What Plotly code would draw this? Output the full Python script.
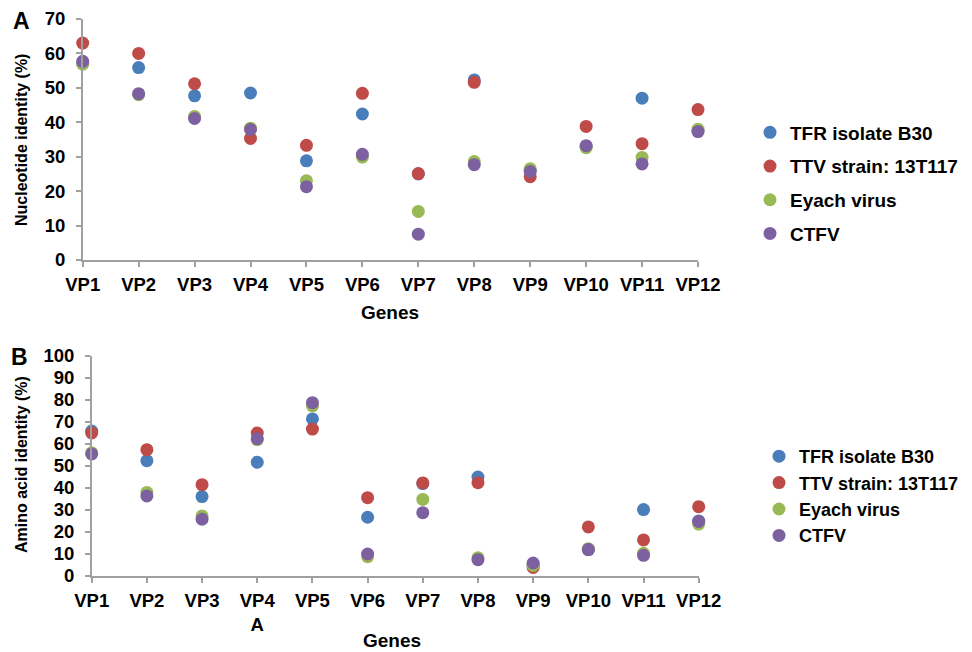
import plotly.graph_objects as go

genes = ["VP1", "VP2", "VP3", "VP4", "VP5", "VP6", "VP7", "VP8", "VP9", "VP10", "VP11", "VP12"]
tick_labels_a = ["VP1", "VP2", "VP3", "VP4", "VP5", "VP6", "VP7", "VP8", "VP9", "VP10", "VP11", "VP12"]
tick_labels_b = ["VP1", "VP2", "VP3", "VP4<br>A", "VP5", "VP6", "VP7", "VP8", "VP9", "VP10", "VP11", "VP12"]

series_names = ["TFR isolate B30", "TTV strain: 13T117", "Eyach virus", "CTFV"]
series_colors = ["#4A7EBB", "#BE4B48", "#98B954", "#7D60A0"]

# Panel A: nucleotide identity (%)
nt_tfr = [57.0, 55.9, 47.7, 48.5, 28.8, 42.4, 25.0, 52.3, 26.0, 33.0, 47.0, 37.5]
nt_ttv = [63.0, 60.0, 51.2, 35.3, 33.3, 48.4, 25.1, 51.6, 24.2, 38.8, 33.8, 43.7]
nt_eyach = [56.9, 48.0, 41.7, 38.3, 23.0, 29.9, 14.1, 28.6, 26.5, 32.6, 29.8, 38.0]
nt_ctfv = [57.7, 48.3, 41.1, 37.9, 21.3, 30.7, 7.5, 27.7, 25.7, 33.2, 27.9, 37.3]

# Panel B: amino acid identity (%)
aa_tfr = [65.9, 52.4, 36.1, 51.7, 71.4, 26.7, 42.0, 45.0, 5.0, 12.0, 30.2, 25.0]
aa_ttv = [65.0, 57.4, 41.5, 65.0, 66.8, 35.6, 42.3, 42.4, 3.9, 22.3, 16.4, 31.5]
aa_eyach = [56.0, 38.0, 27.3, 62.0, 77.3, 8.8, 34.8, 8.3, 4.8, 12.4, 10.3, 23.6]
aa_ctfv = [55.5, 36.4, 25.8, 62.4, 78.8, 10.0, 28.8, 7.4, 5.9, 12.0, 9.4, 24.8]

W, H = 972, 652
FONT = "Liberation Sans, Arial, sans-serif"

def px_x(p):
    return p / W

def px_y(p):
    return 1 - p / H

fig = go.Figure()

data_a = [nt_tfr, nt_ttv, nt_eyach, nt_ctfv]
data_b = [aa_tfr, aa_ttv, aa_eyach, aa_ctfv]

for i, name in enumerate(series_names):
    fig.add_trace(go.Scatter(
        x=genes, y=data_a[i], mode="markers", name=name,
        marker=dict(color=series_colors[i], size=13, line=dict(width=0)),
        xaxis="x", yaxis="y", legend="legend", legendgroup="a" + str(i),
        cliponaxis=False,
    ))
for i, name in enumerate(series_names):
    fig.add_trace(go.Scatter(
        x=genes, y=data_b[i], mode="markers", name=name,
        marker=dict(color=series_colors[i], size=13, line=dict(width=0)),
        xaxis="x2", yaxis="y2", legend="legend2", legendgroup="b" + str(i),
        cliponaxis=False,
    ))

axis_common = dict(
    showgrid=False, zeroline=False, showline=True, linecolor="#A0A0A0", linewidth=1.5,
    ticks="outside", ticklen=5, tickcolor="#A0A0A0", tickwidth=1.5, automargin=False,
    tickfont=dict(family=FONT, size=18.5, color="black", weight="bold"),
)

fig.update_layout(
    width=W, height=H, margin=dict(l=0, r=0, t=0, b=0, autoexpand=False),
    paper_bgcolor="white", plot_bgcolor="white",
    xaxis=dict(axis_common, domain=[px_x(82.7), px_x(698)], type="category",
               categoryorder="array", categoryarray=genes, range=[0, 11],
               tickvals=genes, ticktext=tick_labels_a, anchor="y", ticklabelstandoff=2),
    yaxis=dict(axis_common, domain=[px_y(260), px_y(19)], range=[0, 70], dtick=10,
               anchor="x", ticklabelstandoff=7),
    xaxis2=dict(axis_common, domain=[px_x(91.7), px_x(698.7)], type="category",
                categoryorder="array", categoryarray=genes, range=[0, 11],
                tickvals=genes, ticktext=tick_labels_b, anchor="y2", ticklabelstandoff=2),
    yaxis2=dict(axis_common, domain=[px_y(576), px_y(356)], range=[0, 100], dtick=10,
                anchor="x2", ticklabelstandoff=7),
    legend=dict(x=px_x(750), y=px_y(113.5), xanchor="left", yanchor="top",
                font=dict(family=FONT, size=19, color="black", weight="bold"),
                tracegroupgap=6, bgcolor="rgba(0,0,0,0)"),
    legend2=dict(x=px_x(759), y=px_y(438), xanchor="left", yanchor="top",
                 font=dict(family=FONT, size=18, color="black", weight="bold"),
                 tracegroupgap=0, bgcolor="rgba(0,0,0,0)"),
)

ann_font = dict(family=FONT, size=19, color="black", weight="bold")
title_font = dict(family=FONT, size=16, color="black", weight="bold")
annotations = [
    dict(text="A", x=px_x(21), y=px_y(21), font=dict(family=FONT, size=23, color="black", weight="bold")),
    dict(text="B", x=px_x(19), y=px_y(357), font=dict(family=FONT, size=23, color="black", weight="bold")),
    dict(text="Genes", x=px_x(390), y=px_y(312), font=ann_font),
    dict(text="Genes", x=px_x(392), y=px_y(640), font=ann_font),
    dict(text="Nucleotide identity (%)", x=px_x(21), y=px_y(140), textangle=-90, font=title_font),
    dict(text="Amino acid identity (%)", x=px_x(21), y=px_y(465), textangle=-90, font=title_font),
]
for a in annotations:
    a.update(xref="paper", yref="paper", showarrow=False, xanchor="center", yanchor="middle")
fig.update_layout(annotations=annotations)

fig.write_html("out.html", config={"displayModeBar": False},
               post_script="document.body.style.margin='0';")
